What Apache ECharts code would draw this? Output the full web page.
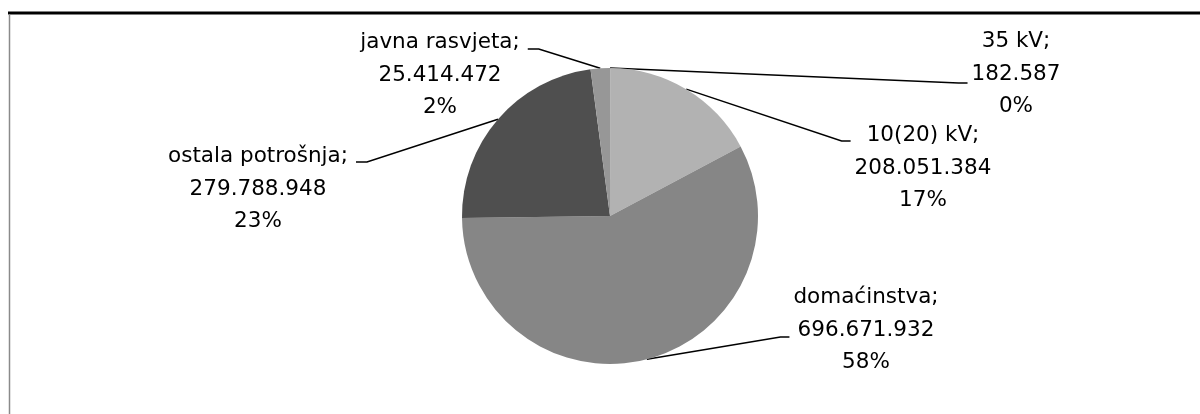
<!DOCTYPE html>
<html>
<head>
<meta charset="utf-8">
<script src="https://cdn.jsdelivr.net/npm/echarts@6/dist/echarts.min.js"></script>
<style>
html,body{margin:0;padding:0;background:#fff;}
#chart{width:1200px;height:414px;}
</style>
</head>
<body>
<div id="chart"></div>
<script>
// ---- data ----
const categories = ['35 kV', '10(20) kV', 'domaćinstva', 'ostala potrošnja', 'javna rasvjeta'];
const values = [182587, 208051384, 696671932, 279788948, 25414472];
const colors = ['#3a3a3a', '#b2b2b2', '#868686', '#4f4f4f', '#979797'];

// ---- label placement (centre of each 3-line label block, and leader attach) ----
const labelCenters = [[1016, 74], [923, 168], [866, 330], [258, 189], [440, 75]];
const leaderOffsetY = [9, -27, 7, -27, -26];

function fmtNum(v) {
  return String(v).replace(/\B(?=(\d{3})+(?!\d))/g, '.');
}

const chart = echarts.init(document.getElementById('chart'), null, {renderer: 'canvas'});

const option = {
  animation: false,
  backgroundColor: '#ffffff',
  graphic: [
    {type: 'line', shape: {x1: 8, y1: 13, x2: 1200, y2: 13}, style: {stroke: '#000', lineWidth: 3}, silent: true},
    {type: 'line', shape: {x1: 9.5, y1: 14, x2: 9.5, y2: 414}, style: {stroke: '#8a8a8a', lineWidth: 1.5}, silent: true}
  ],
  series: [{
    type: 'pie',
    center: [610, 216],
    radius: 148,
    startAngle: 90,
    clockwise: true,
    avoidLabelOverlap: false,
    data: categories.map((c, i) => ({name: c, value: values[i], itemStyle: {color: colors[i]}})),
    itemStyle: {borderWidth: 0},
    label: {
      show: true,
      position: 'outside',
      alignTo: 'none',
      fontFamily: 'DejaVu Sans',
      fontSize: 21.5,
      lineHeight: 32.5,
      color: '#000',
      formatter: p => p.name + ';\n' + fmtNum(p.value) + '\n' + Math.round(p.percent) + '%'
    },
    labelLine: {
      show: true,
      length: 10,
      length2: 10,
      smooth: false,
      lineStyle: {color: '#000', width: 1.5}
    },
    labelLayout: function (params) {
      const i = params.dataIndex;
      const cx = labelCenters[i][0], cy = labelCenters[i][1];
      const w = params.labelRect.width;
      const start = params.labelLinePoints[0];
      const rightSide = cx > 610;
      const ay = cy + leaderOffsetY[i];
      let end, bend;
      if (rightSide) {
        end = [cx - w / 2 - 4, ay];
        bend = [end[0] - 9, ay];
      } else {
        end = [cx + w / 2 + 8, ay];
        bend = [end[0] + 11, ay];
      }
      return {
        x: cx, y: cy,
        align: 'center',
        verticalAlign: 'middle',
        labelLinePoints: [start, bend, end]
      };
    }
  }]
};
chart.setOption(option);
</script>
</body>
</html>
